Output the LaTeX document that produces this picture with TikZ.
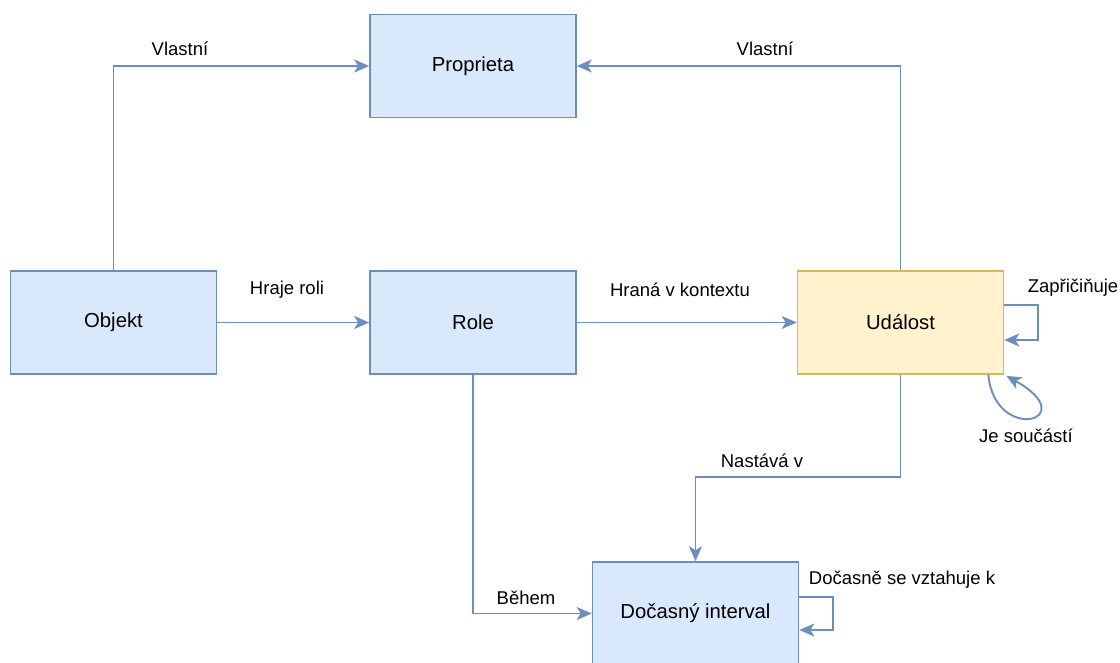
\documentclass[tikz,border=0pt]{standalone}
\usepackage{fontspec}
\setmainfont{Liberation Sans}
\usetikzlibrary{arrows.meta}
\definecolor{boxfill}{HTML}{DAE8FC}
\definecolor{boxline}{HTML}{6C8EBF}
\definecolor{evfill}{HTML}{FFF2CC}
\definecolor{evline}{HTML}{D6B656}
\tikzset{
  entity/.style={draw=boxline, fill=boxfill, line width=1.6pt, minimum width=206pt, minimum height=103pt, inner sep=0pt, font=\fontsize{20.3}{24}\selectfont},
  event/.style={entity, draw=evline, fill=evfill},
  conn/.style={draw=boxline, line width=1.9pt, -{Stealth[length=15pt,width=13pt,inset=4pt]}},
  lbl/.style={inner sep=0pt, font=\fontsize{18.5}{22}\selectfont}
}
\begin{document}
\begin{tikzpicture}[x=1pt,y=-1pt]
\useasboundingbox (0,0) rectangle (1120,662);
% entities
\node[entity] (proprieta) at (473,66) {Proprieta};
\node[entity] (objekt) at (113.5,322.5) {Objekt};
\node[entity] (role) at (473,322.5) {Role};
\node[event] (udalost) at (900.5,322.5) {Událost};
\node[entity] (interval) at (695.5,613.5) {Dočasný interval};
% relations
\draw[conn] (objekt.north) |- (proprieta.west);
\draw[conn] (udalost.north) |- (proprieta.east);
\draw[conn] (objekt.east) -- (role.west);
\draw[conn] (role.east) -- (udalost.west);
\draw[conn] (udalost.south) -- ++(0,102) -| (interval.north);
\draw[conn] (role.south) |- (interval.west);
\draw[conn] ([yshift=17.5pt]udalost.east) -- ++(34,0) -- ++(0,35) -- ([yshift=-17.5pt]udalost.east);
\draw[conn] ([xshift=-16pt]udalost.south east) .. controls (995,445) and (1085,420) .. ([xshift=2pt,yshift=-1pt]udalost.south east);
\draw[conn] ([yshift=16.5pt]interval.east) -- ++(34,0) -- ++(0,33) -- ([yshift=-16.5pt]interval.east);
% relation labels
\node[lbl] (l1) at (180,49) {Vlastní};
\node[lbl] (l2) at (765,49) {Vlastní};
\node[lbl] (l3) at (287,290) {Hraje roli};
\node[lbl] (l4) at (680,290) {Hraná v kontextu};
\node[lbl] (l5) at (1073,288) {Zapřičiňuje};
\node[lbl] (l6) at (1026,436) {Je součástí};
\node[lbl] (l7) at (762,461) {Nastává v};
\node[lbl] (l8) at (526,598) {Během};
\node[lbl] (l9) at (902,580) {Dočasně se vztahuje k};
\end{tikzpicture}
\end{document}
